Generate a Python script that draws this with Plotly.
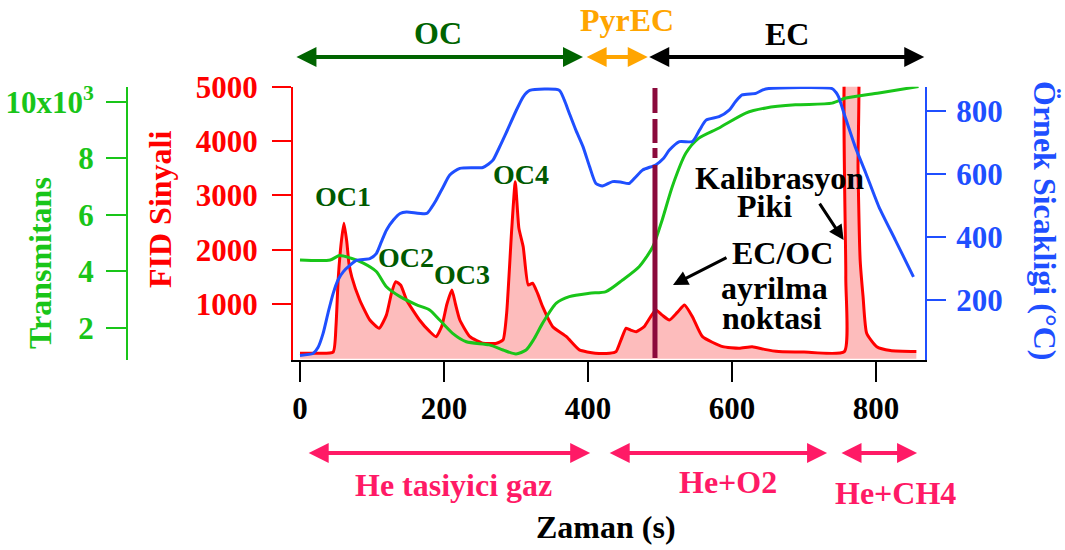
import plotly.graph_objects as go

# ---- FID signal (red), time in s ----
fid_t = [0, 20, 46, 50, 53, 57, 61, 65, 68, 72, 83, 97, 110, 120, 127, 133, 140, 148,
         166, 180, 189, 197, 204, 211, 216, 222, 236, 254, 273, 282, 287, 294, 299, 304,
         310, 317, 323, 330, 337, 351, 370, 388, 410, 430, 439, 446, 453, 460, 467, 478,
         494, 503, 513, 524, 534, 545, 559, 587, 610, 628, 645, 665, 700, 756, 758, 760,
         773, 775, 778, 782, 787, 801, 820, 856]
fid_v = [100, 100, 120, 600, 1450, 2100, 2490, 2150, 1750, 1500, 1079, 711, 560, 800,
         1200, 1416, 1350, 1079, 711, 500, 404, 600, 1000, 1263, 1000, 711, 404, 283, 283,
         344, 834, 2366, 3254, 2400, 2059, 1355, 1386, 1200, 956, 588, 404, 160, 100, 100,
         130, 350, 559, 520, 496, 588, 895, 800, 711, 850, 987, 772, 404, 220, 190, 220,
         170, 130, 120, 130, 1500, 6000, 6000, 3500, 1800, 1140, 467, 220, 150, 130]

# ---- Sample temperature (blue), degC ----
temp_t = [0, 18, 25, 32, 39, 46, 53, 60, 70, 79, 97, 106, 113, 120, 130, 139, 148, 176,
          183, 189, 199, 208, 222, 254, 262, 268, 277, 286, 300, 310, 319, 360, 367, 374,
          383, 393, 402, 411, 420, 434, 445, 457, 466, 476, 494, 505, 513, 527, 545, 555,
          564, 582, 596, 605, 614, 633, 642, 651, 739, 744, 748, 757, 771, 786, 804, 827, 852]
temp_v = [25, 31, 50, 94, 160, 221, 265, 290, 312, 327, 332, 348, 385, 422, 455, 475,
          480, 475, 495, 517, 560, 597, 618, 621, 632, 644, 685, 729, 800, 845, 865, 866,
          835, 793, 740, 687, 625, 570, 562, 576, 575, 570, 590, 613, 629, 650, 676, 703,
          703, 740, 771, 782, 803, 830, 851, 856, 866, 871, 871, 860, 845, 782, 687, 602,
          496, 390, 274]

# ---- Transmittance (green), x10^3 ----
trans_t = [0, 42, 55, 71, 88, 106, 120, 139, 162, 180, 194, 212, 231, 263, 282, 300, 314,
           325, 337, 356, 374, 402, 425, 448, 471, 490, 503, 517, 536, 554, 582, 619, 647,
           688, 739, 758, 804, 859]
trans_v = [4.40, 4.40, 4.56, 4.46, 4.29, 3.99, 3.45, 3.10, 2.81, 2.63, 2.27, 1.80, 1.50,
           1.39, 1.21, 1.07, 1.21, 1.60, 2.16, 2.87, 3.10, 3.22, 3.28, 3.69, 4.16, 4.87,
           5.82, 7.00, 8.19, 8.72, 9.08, 9.61, 9.79, 9.90, 9.96, 10.14, 10.32, 10.55]

# ---- axis ticks ----
x_ticks = [0, 200, 400, 600, 800]
fid_ticks = [1000, 2000, 3000, 4000, 5000]
trans_ticks = [2, 4, 6, 8, 10]
trans_ticktext = ["2", "4", "6", "8", "10x10<sup>3</sup>"]
temp_ticks = [200, 400, 600, 800]

# ---- phase brackets (time ranges) ----
carbon_phases = [("OC", -7, 393, "#006400"), ("PyrEC", 396, 483, "#ffa500"),
                 ("EC", 483, 867, "#000000")]
gas_phases = [("He tasiyici gaz", 10, 403), ("He+O2", 428, 732), ("He+CH4", 750, 857)]
split_time = 493

peak_labels = [("OC1", 60, 2990), ("OC2", 147, 1860), ("OC3", 225, 1550), ("OC4", 307, 3390)]

W, H = 1065, 550
RED, BLUE, GREEN = "#ff0000", "#1f4fff", "#19c519"
PINK = "#ff1a66"
SERIF = "Liberation Serif"


def font(size, color):
    return dict(family=SERIF, size=size, color=color, weight="bold")


def px(x):
    return x / W


def py(y):
    return 1 - y / H


fig = go.Figure()
fig.add_trace(go.Scatter(x=fid_t, y=fid_v, mode="lines", line=dict(color=RED, width=3, shape="spline", smoothing=0.5),
                         fill="tozeroy", fillcolor="#fdbcbc", yaxis="y", showlegend=False))
fig.add_trace(go.Scatter(x=trans_t, y=trans_v, mode="lines", line=dict(color=GREEN, width=3, shape="spline", smoothing=0.7),
                         yaxis="y2", showlegend=False))
fig.add_trace(go.Scatter(x=temp_t, y=temp_v, mode="lines", line=dict(color=BLUE, width=3, shape="spline", smoothing=0.6),
                         yaxis="y3", showlegend=False))

xdom = [px(293), px(925)]
ydom = [py(360), py(86.7)]

fig.update_layout(
    width=W, height=H, margin=dict(l=0, r=0, t=0, b=0),
    paper_bgcolor="white", plot_bgcolor="white",
    xaxis=dict(domain=xdom, range=[-9.7, 868], tickvals=x_ticks, showline=True, linecolor="black",
               linewidth=2, ticks="outside", ticklen=20, tickwidth=2, tickcolor="black",
               tickfont=font(31, "black"), ticklabelstandoff=0, showgrid=False, zeroline=False,
               automargin=False),
    yaxis=dict(domain=ydom, range=[-25, 5000], tickvals=fid_ticks, showline=True, linecolor=RED,
               linewidth=2, ticks="outside", ticklen=19, tickwidth=2, tickcolor=RED,
               tickfont=font(31, RED), ticklabelstandoff=8, showgrid=False, zeroline=False,
               automargin=False),
    yaxis2=dict(domain=ydom, range=[0.854, 10.543], overlaying="y", anchor="free", position=px(127),
                side="left", tickvals=trans_ticks, ticktext=trans_ticktext, showline=True,
                linecolor=GREEN, linewidth=2, ticks="outside", ticklen=20, tickwidth=2,
                tickcolor=GREEN, tickfont=font(31, GREEN), ticklabelstandoff=6, showgrid=False,
                zeroline=False, automargin=False),
    yaxis3=dict(domain=ydom, range=[10.5, 877], overlaying="y", anchor="x", side="right",
                tickvals=temp_ticks, showline=True, linecolor=BLUE, linewidth=2, ticks="outside",
                ticklen=19, tickwidth=2, tickcolor=BLUE, tickfont=font(31, BLUE),
                ticklabelstandoff=4, showgrid=False, zeroline=False, automargin=False),
)

# EC/OC split line
fig.add_shape(type="line", xref="x", yref="paper", x0=split_time, x1=split_time,
              y0=py(88), y1=py(358), line=dict(color="#8b0a3c", width=5,
                                               dash="25px,6px,24px,5px,10px,7px,400px"),
              layer="above")

ann = []


def double_arrow(t0, t1, ypix, color):
    ann.append(dict(x=t1, xref="x", y=py(ypix), yref="paper", ax=t0, axref="x", ay=0,
                    ayref="pixel", text="", showarrow=True, arrowside="end+start",
                    arrowhead=2, startarrowhead=2, arrowsize=1.0, startarrowsize=1.0,
                    arrowwidth=4, arrowcolor=color, standoff=0, startstandoff=0))


def label(x, y, text, size, color, angle=0, xanchor="center"):
    ann.append(dict(x=px(x), y=py(y), xref="paper", yref="paper", text=text, textangle=angle,
                    xanchor=xanchor, yanchor="middle", showarrow=False, font=font(size, color)))


for name, t0, t1, c in carbon_phases:
    double_arrow(t0, t1, 57, c)
for name, t0, t1 in gas_phases:
    double_arrow(t0, t1, 453, PINK)

label(438, 33, "OC", 32, "#006400")
label(627, 20, "PyrEC", 32, "#ffa500")
label(787, 34, "EC", 32, "#000000")

label(453, 485, "He tasiyici gaz", 32, PINK)
label(728, 482, "He+O2", 32, PINK)
label(833, 493, "He+CH4", 32, PINK, xanchor="left")
label(606, 527, "Zaman (s)", 32, "black")

# axis titles
label(40, 263, "Transmitans", 32, GREEN, angle=-90)
label(160, 210, "FID Sinyali", 32, RED, angle=-90)
label(1045, 220, "Örnek Sicakligi (°C)", 32, BLUE, angle=90)

# peak labels
for name, t, v in peak_labels:
    ann.append(dict(x=t, y=v, xref="x", yref="y", text=name, showarrow=False,
                    xanchor="center", yanchor="middle", font=font(28, "#005a00")))

# calibration peak and split-point notes
label(779, 178, "Kalibrasyon", 32, "black")
label(764, 206, "Piki", 32, "black")
label(782, 253, "EC/OC", 32, "black")
label(774, 288, "ayrilma", 32, "black")
label(772, 318, "noktasi", 32, "black")
ann.append(dict(x=755, y=2180, xref="x", yref="y", ax=-25, ay=-38, text="", showarrow=True,
                arrowhead=2, arrowsize=1.0, arrowwidth=3, arrowcolor="black", standoff=0))
ann.append(dict(x=518, y=1355, xref="x", yref="y", ax=55, ay=-28, text="", showarrow=True,
                arrowhead=2, arrowsize=1.0, arrowwidth=3, arrowcolor="black", standoff=0))

fig.update_layout(annotations=ann)
fig.write_html("out.html")
